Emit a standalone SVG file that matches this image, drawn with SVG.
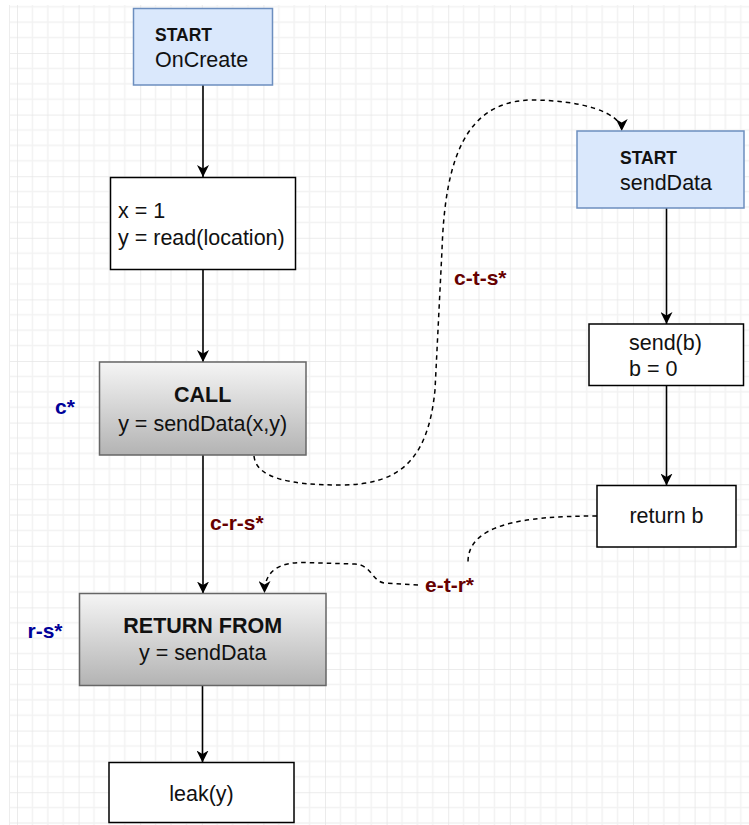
<svg xmlns="http://www.w3.org/2000/svg" width="749" height="825" viewBox="0 0 749 825">
  <style>
    text { font-family: "Liberation Sans", Arial, sans-serif; fill: #111; }
    .body { font-size: 21.5px; }
    .bold { font-weight: bold; }
    .small { font-size: 17.5px; font-weight: bold; }
    .mid { text-anchor: middle; }
    .plain { fill: #ffffff; stroke: #000000; stroke-width: 1.5; }
    .start { fill: #dae8fc; stroke: #6c8ebf; stroke-width: 1.5; }
    .call { fill: url(#grayGrad); stroke: #666666; stroke-width: 1.5; }
    .flow { fill: none; stroke: #000; stroke-width: 1.6; marker-end: url(#arrow); }
    .dash { fill: none; stroke: #000; stroke-width: 1.5; stroke-dasharray: 4.5 4; }
    .dash.end { marker-end: url(#arrow); }
    .edgeLbl { font-size: 21px; font-weight: bold; fill: #660000; }
    .ctxLbl { font-size: 21px; font-weight: bold; fill: #000099; }
    .gMinor { stroke: #f2f2f2; stroke-width: 1.5; }
    .gMajor { stroke: #e6e6e6; stroke-width: 1.6; }
  </style>
  <defs>
    <linearGradient id="grayGrad" x1="0" y1="0" x2="0" y2="1">
      <stop offset="0" stop-color="#f5f5f5"/>
      <stop offset="1" stop-color="#b3b3b3"/>
    </linearGradient>
    <marker id="arrow" viewBox="0 0 12 12" refX="12" refY="6" markerWidth="12" markerHeight="12" markerUnits="userSpaceOnUse" orient="auto">
      <path d="M0,0 L12,6 L0,12 L3.5,6 Z" fill="#000"/>
    </marker>
    <pattern id="grid" patternUnits="userSpaceOnUse" x="17" y="53" width="61.6" height="61.6">
      <line class="gMinor" x1="15.4" y1="0" x2="15.4" y2="61.6"/>
      <line class="gMinor" x1="30.8" y1="0" x2="30.8" y2="61.6"/>
      <line class="gMinor" x1="46.2" y1="0" x2="46.2" y2="61.6"/>
      <line class="gMinor" x1="0" y1="15.4" x2="61.6" y2="15.4"/>
      <line class="gMinor" x1="0" y1="30.8" x2="61.6" y2="30.8"/>
      <line class="gMinor" x1="0" y1="46.2" x2="61.6" y2="46.2"/>
      <line class="gMajor" x1="0" y1="0" x2="0" y2="61.6"/>
      <line class="gMajor" x1="0" y1="0" x2="61.6" y2="0"/>
    </pattern>
  </defs>

  <rect width="749" height="825" fill="#ffffff"/>
  <rect x="9" y="5" width="740" height="820" fill="url(#grid)"/>
  <line x1="9.5" y1="5" x2="9.5" y2="825" stroke="#ededed" stroke-width="1"/>

  <!-- connectors -->
  <g id="connectors">
    <path class="flow" d="M203 85 V177"/>
    <path class="flow" d="M203 270 V362"/>
    <path class="flow" d="M203 455 V593.5"/>
    <path class="flow" d="M202.5 686 V762.5"/>
    <path class="flow" d="M666.5 208 V324"/>
    <path class="flow" d="M666.5 385.5 V485.5"/>
    <!-- call to callee start -->
    <path class="dash end" d="M254 456 C256 478, 290 485, 340 485 C400 485, 428 460, 435 390 L442 250 C445 160, 465 102, 530 100 C580 100, 621.7 112, 621.7 131"/>
    <!-- exit back to return site -->
    <path class="dash" d="M597 516 C520 516, 468 525, 468 562"/>
    <path class="dash end" d="M418 585 L385 583 C372 582, 372 565, 355 564 L305 562.5 C280 562, 264.5 570, 264.5 593"/>
    <text class="edgeLbl" x="454" y="285">c-t-s*</text>
    <text class="edgeLbl" x="210" y="530">c-r-s*</text>
    <text class="edgeLbl" x="425" y="592">e-t-r*</text>
  </g>

  <g id="startOnCreate">
    <rect class="start" x="133.5" y="8.5" width="139" height="76.5"/>
    <text class="small" x="155" y="41">START</text>
    <text class="body" x="155" y="67">OnCreate</text>
  </g>

  <g id="assign">
    <rect class="plain" x="110.5" y="177.5" width="185" height="92"/>
    <text class="body" x="118" y="218">x = 1</text>
    <text class="body" x="118" y="245">y = read(location)</text>
  </g>

  <g id="call">
    <rect class="call" x="99.5" y="362" width="206.5" height="93"/>
    <text class="body bold mid" x="202.7" y="402">CALL</text>
    <text class="body mid" x="202.7" y="431">y = sendData(x,y)</text>
  </g>
  <text class="ctxLbl" x="55" y="414">c*</text>

  <g id="returnFrom">
    <rect class="call" x="79.5" y="593.5" width="246.5" height="92"/>
    <text class="body bold mid" x="202.7" y="633">RETURN FROM</text>
    <text class="body mid" x="202.7" y="659.5">y = sendData</text>
  </g>
  <text class="ctxLbl" x="27.5" y="638">r-s*</text>

  <g id="leak">
    <rect class="plain" x="109" y="762.5" width="185" height="60"/>
    <text class="body mid" x="201.5" y="801">leak(y)</text>
  </g>

  <g id="startSendData">
    <rect class="start" x="577" y="131" width="167" height="77"/>
    <text class="small" x="620" y="163.5">START</text>
    <text class="body" x="620" y="190">sendData</text>
  </g>

  <g id="sendB">
    <rect class="plain" x="589" y="324" width="154.5" height="61.5"/>
    <text class="body" x="629" y="349.5">send(b)</text>
    <text class="body" x="629" y="376">b = 0</text>
  </g>

  <g id="returnB">
    <rect class="plain" x="597" y="485.5" width="139" height="61.5"/>
    <text class="body mid" x="666.5" y="523">return b</text>
  </g>
</svg>
